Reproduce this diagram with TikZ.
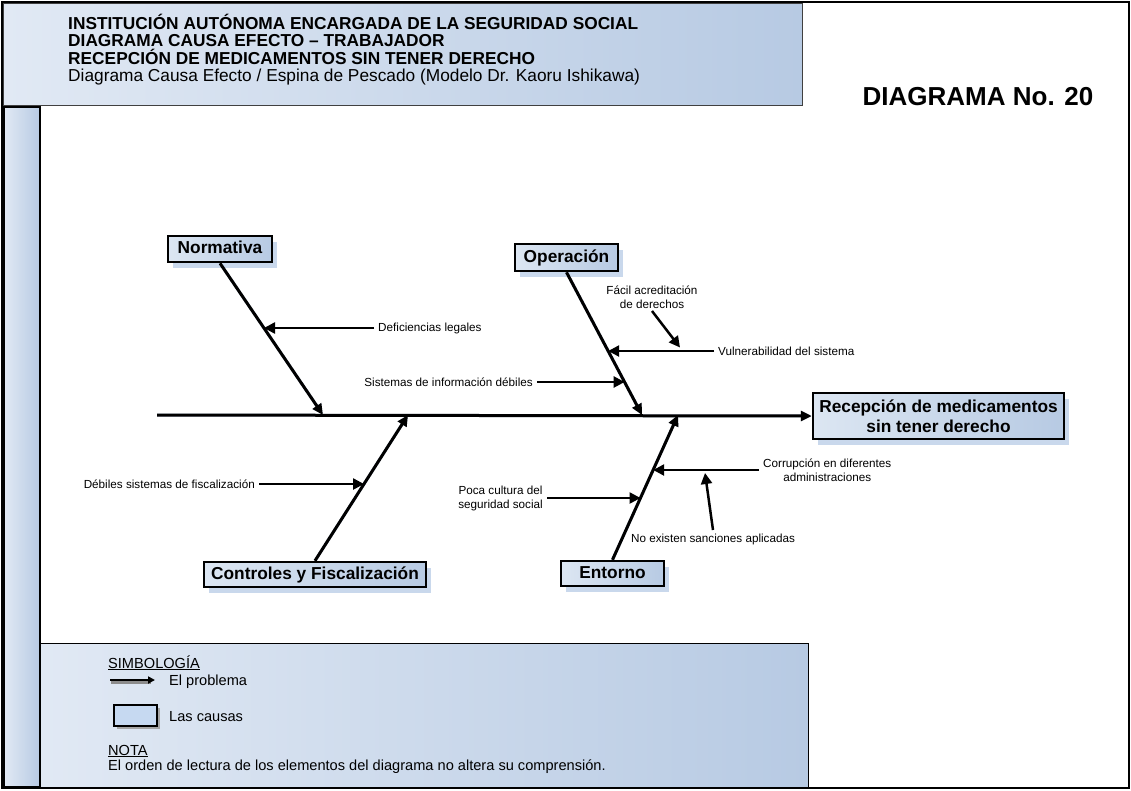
\documentclass[tikz,border=0pt]{standalone}
\usepackage{fontspec}
\setmainfont{Liberation Sans}
\usetikzlibrary{arrows.meta,shadows,backgrounds}

\definecolor{paneLight}{HTML}{E1E9F4}
\definecolor{boxLight}{HTML}{DCE6F2}
\definecolor{boxDark}{HTML}{B7CAE3}
\definecolor{shadowBlue}{HTML}{C9D8EC}
\definecolor{legendFill}{HTML}{C6D9F1}

\newcommand\boldbig{\fontsize{17.3}{20}\selectfont\bfseries}
\newcommand\hdrtext{\fontsize{17.3}{18}\selectfont}
\newcommand\lbltext{\fontsize{11.7}{14}\selectfont}
\newcommand\legtext{\fontsize{14.6}{16}\selectfont}

\tikzset{
  causebase/.style={draw=black, line width=2.5pt, left color=boxLight, right color=boxDark,
    font=\boldbig, inner sep=0pt,
    general shadow={fill=shadowBlue, shadow xshift=5pt, shadow yshift=-6pt}},
  causebox/.style={causebase, text height=12.5pt, text depth=3.5pt},
  bone/.style={line width=3pt, -{Triangle[length=11pt,width=10pt]}},
  subarrow/.style={line width=2.5pt, -{Triangle[length=11pt,width=11pt]}},
  lbl/.style={font=\lbltext, inner xsep=4pt, inner ysep=2pt},
  hdr/.style={anchor=base west, inner sep=0pt, font=\hdrtext},
  leg/.style={anchor=base west, inner sep=0pt, font=\legtext},
}

\begin{document}
\begin{tikzpicture}[x=1pt, y=-1pt]
\useasboundingbox (0,0) rectangle (1131,790);

% panels: header, left strip, legend area, outer frame
\path[draw=black!75, line width=1pt, left color=paneLight, right color=boxDark] (3,3) rectangle (802,105);
\path[draw=black, line width=2pt, left color=paneLight, right color=boxDark] (4,107) rectangle (40,787);
\path[draw=black, line width=1pt, left color=paneLight, right color=boxDark] (40,643) rectangle (808,787);
\draw[line width=2.5pt] (2,2) rectangle (1129,788);

% header text
\node[hdr, font=\hdrtext\bfseries] (h1) at (68,29) {INSTITUCIÓN AUTÓNOMA ENCARGADA DE LA SEGURIDAD SOCIAL};
\node[hdr, font=\hdrtext\bfseries] (h2) at (68,46.5) {DIAGRAMA CAUSA EFECTO – TRABAJADOR};
\node[hdr, font=\hdrtext\bfseries] (h3) at (68,64) {RECEPCIÓN DE MEDICAMENTOS SIN TENER DERECHO};
\node[hdr] (h4) at (68,81.5) {Diagrama Causa Efecto / Espina de Pescado (Modelo Dr. Kaoru Ishikawa)};
\node[anchor=base, inner sep=0pt, font=\fontsize{26}{30}\selectfont\bfseries] (dnum) at (978,105) {DIAGRAMA No. 20};

% cause boxes and effect box
\node[causebox, minimum width=104pt, minimum height=26pt] (norm) at (220,249) {Normativa};
\node[causebox, minimum width=103pt, minimum height=27pt] (oper) at (566.5,257.5) {Operación};
\node[causebox, minimum width=222pt, minimum height=25pt] (ctrl) at (315,574.5) {Controles y Fiscalización};
\node[causebox, minimum width=103pt, minimum height=25pt] (ent) at (612.5,573.5) {Entorno};
\node[causebase, align=center, minimum width=251pt, minimum height=46pt] (head) at (938.5,416) {Recepción de medicamentos\\sin tener derecho};

% points on the spine
\coordinate (tail) at (157,415);
\coordinate (nT) at (323,415);
\coordinate (cT) at (408,415);
\coordinate (oT) at (642,415);
\coordinate (eT) at (678,415);

% bone shadows
\begin{scope}[on background layer, transform canvas={shift={(5,5)}}]
  \draw[bone, shadowBlue] (tail) -- (head.west);
  \draw[bone, shadowBlue] (norm.south) -- (nT);
  \draw[bone, shadowBlue] (oper.south) -- (oT);
  \draw[bone, shadowBlue] (ctrl.north) -- (cT);
  \draw[bone, shadowBlue] (ent.north) -- (eT);
\end{scope}

% spine and main bones
\draw[bone] (tail) -- (head.west);
\draw[bone] (norm.south) -- (nT);
\draw[bone] (oper.south) -- (oT);
\draw[bone] (ctrl.north) -- (cT);
\draw[bone] (ent.north) -- (eT);

% secondary causes
\node[lbl, anchor=west] (def) at (374,328) {Deficiencias legales};
\coordinate (defT) at (264,328);
\draw[subarrow] (def.west) -- (defT);

\node[lbl, anchor=east] (sis) at (537,382) {Sistemas de información débiles};
\coordinate (sisT) at (624.6,382);
\draw[subarrow] (sis.east) -- (sisT);

\node[lbl, anchor=west] (vul) at (714,351) {Vulnerabilidad del sistema};
\coordinate (vulT) at (608.2,351);
\draw[subarrow] (vul.west) -- (vulT);

\node[lbl, align=center, anchor=south] (fac) at (652,311) {Fácil acreditación\\de derechos};
\coordinate (facT) at (680,347.5);
\draw[subarrow] (fac.south) -- (facT);

\node[lbl, anchor=east] (deb) at (259,484) {Débiles sistemas de fiscalización};
\coordinate (debT) at (364,484);
\draw[subarrow] (deb.east) -- (debT);

\node[lbl, align=center, anchor=east] (poca) at (547,498) {Poca cultura del\\seguridad social};
\coordinate (pocaT) at (640.5,498);
\draw[subarrow] (poca.east) -- (pocaT);

\node[lbl, align=center, anchor=west] (cor) at (759,470) {Corrupción en diferentes\\administraciones};
\coordinate (corT) at (653.2,470);
\draw[subarrow] (cor.west) -- (corT);

\node[lbl, inner ysep=4pt, anchor=north] (noex) at (713,530) {No existen sanciones aplicadas};
\coordinate (noexT) at (705,473);
\draw[subarrow] (noex.north) -- (noexT);

% legend
\node[leg] (simb) at (108,668) {\underline{SIMBOLOGÍA}};
\coordinate (lgA) at (110,680);
\coordinate (lgB) at (155,680);
\draw[black!45, line width=2.5pt] (lgA) ++(1,2.5) -- ++(40,0);
\draw[line width=1.8pt, -{Triangle[length=7pt,width=7pt]}] (lgA) -- (lgB);
\node[leg] (prob) at (169,685) {El problema};
\node[draw=black, line width=2pt, fill=legendFill, minimum width=43pt, minimum height=21pt,
  general shadow={fill=black!35, shadow xshift=3pt, shadow yshift=-3pt}] (lgbox) at (135.5,715.5) {};
\node[leg] (caus) at (169,721) {Las causas};
\node[leg] (nota) at (108,755) {\underline{NOTA}};
\node[leg] (orden) at (108,770) {El orden de lectura de los elementos del diagrama no altera su comprensión.};
\end{tikzpicture}
\end{document}
